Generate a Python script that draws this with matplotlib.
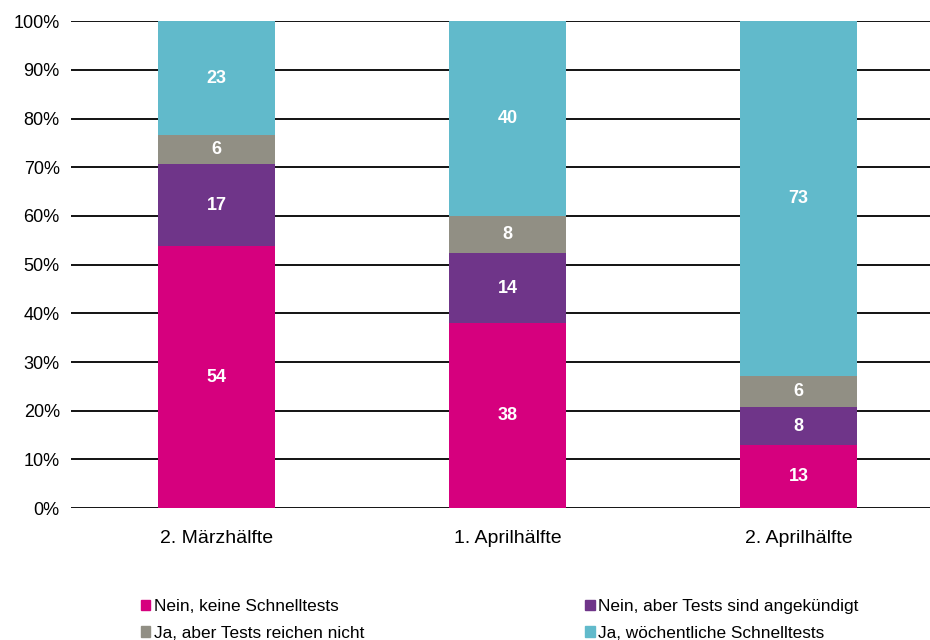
import matplotlib
matplotlib.use("Agg")
import matplotlib.pyplot as plt
from matplotlib.patches import Patch
import numpy as np

categories = ["2. Märzhälfte", "1. Aprilhälfte", "2. Aprilhälfte"]
series_names = ["Nein, keine Schnelltests", "Nein, aber Tests sind angekündigt",
                "Ja, aber Tests reichen nicht", "Ja, wöchentliche Schnelltests"]
nein_keine = [53.8, 38.0, 12.9]
nein_angek = [16.8, 14.4, 7.8]
ja_reichen_nicht = [6.0, 7.6, 6.4]
ja_woechentlich = [23.4, 40.0, 72.9]
colors = ["#D6007E", "#6F3589", "#918F84", "#61BACB"]
yticks = [0, 10, 20, 30, 40, 50, 60, 70, 80, 90, 100]

plt.rcParams['font.family'] = ['Liberation Sans Narrow', 'Liberation Sans', 'DejaVu Sans']

fig = plt.figure(figsize=(9.3, 6.4), dpi=100)
ax = fig.add_axes([0.0763, 0.206, 0.939, 0.761])

x = np.arange(len(categories))
data = [nein_keine, nein_angek, ja_reichen_nicht, ja_woechentlich]
bottom = np.zeros(len(categories))
for vals, c in zip(data, colors):
    vals = np.array(vals, dtype=float)
    ax.bar(x, vals, 0.4, bottom=bottom, color=c, zorder=3, linewidth=0)
    for xi, b, v in zip(x, bottom, vals):
        ax.text(xi, b + v / 2, f"{int(round(v))}", ha="center", va="center",
                color="white", fontsize=13, fontweight="bold", zorder=4)
    bottom += vals

ax.set_xlim(-0.5, 2.5)
ax.set_ylim(0, 100)
ax.set_yticks(yticks)
ax.set_yticklabels([f"{t}%" for t in yticks], fontsize=13)
ax.set_xticks(x)
ax.set_xticklabels(categories, fontsize=14)
ax.tick_params(axis="both", length=0, pad=8)
ax.tick_params(axis="x", pad=16)
ax.yaxis.grid(True, color="black", linewidth=1.3, zorder=0)
ax.set_axisbelow(True)
for s in ax.spines.values():
    s.set_visible(False)

handles = [Patch(color=colors[0]), Patch(color=colors[2]), Patch(color=colors[1]), Patch(color=colors[3])]
labels = [series_names[0], series_names[2], series_names[1], series_names[3]]
fig.legend(handles, labels, ncol=2, loc="upper left", bbox_to_anchor=(0.142, 0.077),
           frameon=False, fontsize=12.4, handlelength=0.55, handleheight=0.55,
           handletextpad=0.2, columnspacing=12.85, labelspacing=0.65, borderpad=0)

fig.savefig("out.png", dpi=100)
